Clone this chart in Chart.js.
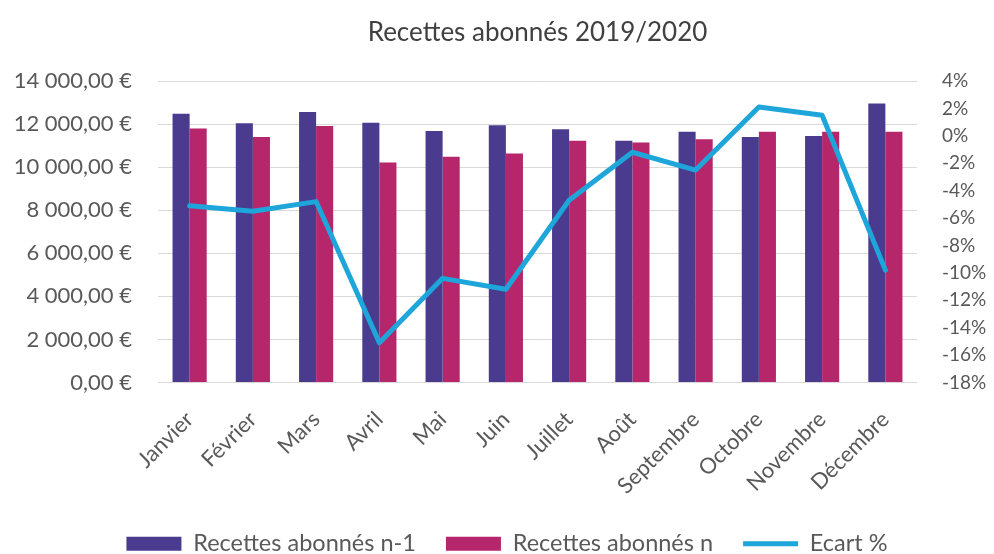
<!DOCTYPE html>
<html>
<head>
<meta charset="utf-8">
<script src="https://cdn.jsdelivr.net/npm/chart.js@4"></script>
<style>
html,body{margin:0;padding:0;background:#fff;}
#wrap{width:994px;height:554px;position:relative;}
</style>
</head>
<body>
<div id="wrap"><canvas id="c" width="994" height="554"></canvas></div>
<script>
const titleText = "Recettes abonnés 2019/2020";
const categories = ["Janvier","Février","Mars","Avril","Mai","Juin","Juillet","Août","Septembre","Octobre","Novembre","Décembre"];
const recettesN1 = [12480, 12040, 12560, 12060, 11680, 11950, 11760, 11220, 11640, 11400, 11450, 12950];
const recettesN = [11800, 11400, 11910, 10210, 10480, 10630, 11220, 11140, 11300, 11640, 11640, 11640];
const ecart = [-5.1, -5.5, -4.8, -15.1, -10.4, -11.2, -4.7, -1.2, -2.5, 2.1, 1.5, -9.8];
const seriesNames = ["Recettes abonnés n-1", "Recettes abonnés n", "Ecart %"];
const leftTicks = [0, 2000, 4000, 6000, 8000, 10000, 12000, 14000];
const rightTicks = [-18, -16, -14, -12, -10, -8, -6, -4, -2, 0, 2, 4];

const FONT = "Lato, 'Noto Sans', sans-serif";
const TXT = "#595959";

function euro(v){
  const s = Math.round(v).toString().replace(/\B(?=(\d{3})+(?!\d))/g, " ");
  return s + ",00 €";
}

const titlePlugin = {
  id: 'customTitle',
  afterLayout(chart){
    if (chart.legend) { chart.legend.left += 10; chart.legend.right += 10; }
  },
  afterDraw(chart){
    const ctx = chart.ctx, a = chart.chartArea;
    ctx.save();
    ctx.font = "26px " + FONT;
    ctx.fillStyle = "#404040";
    ctx.textAlign = "center";
    ctx.textBaseline = "middle";
    ctx.fillText(titleText, (a.left + a.right) / 2, 33);
    ctx.restore();
  }
};

new Chart(document.getElementById('c'), {
  data: {
    labels: categories,
    datasets: [
      { type: 'bar', label: seriesNames[0], data: recettesN1, backgroundColor: '#4b3b8f', borderWidth: 0, yAxisID: 'y', order: 0, pointStyle: 'rect' },
      { type: 'bar', label: seriesNames[1], data: recettesN, backgroundColor: '#b6266b', borderWidth: 0, yAxisID: 'y', order: 0, pointStyle: 'rect' },
      { type: 'line', label: seriesNames[2], data: ecart, borderColor: '#1ea5d9', backgroundColor: '#1ea5d9', borderWidth: 5, pointRadius: 0, pointHoverRadius: 0, tension: 0, yAxisID: 'y1', order: -1, pointStyle: 'line', borderCapStyle: 'round', borderJoinStyle: 'round' }
    ]
  },
  options: {
    responsive: false,
    animation: false,
    devicePixelRatio: 1,
    layout: { padding: { top: 81, left: 0, right: 0, bottom: -11.5 } },
    datasets: { bar: { categoryPercentage: 0.54, barPercentage: 1 } },
    plugins: {
      title: { display: false },
      tooltip: { enabled: false },
      legend: {
        position: 'bottom',
        labels: {
          usePointStyle: true,
          pointStyleWidth: 55,
          boxHeight: 14,
          padding: 30,
          color: TXT,
          font: { family: FONT, size: 23.5 },
          sort: (a, b) => a.datasetIndex - b.datasetIndex
        }
      }
    },
    scales: {
      x: {
        grid: { display: false, drawTicks: false },
        border: { display: false },
        ticks: { color: TXT, font: { family: FONT, size: 22 }, minRotation: 45, maxRotation: 45, padding: 24, autoSkip: false },
        afterFit(s){ s.height = 119.5; }
      },
      y: {
        position: 'left',
        min: 0, max: 14000,
        afterBuildTicks(s){ s.ticks = leftTicks.map(v => ({ value: v })); },
        grid: { color: '#d9d9d9', drawTicks: false, lineWidth: 1 },
        border: { display: false },
        ticks: { color: TXT, font: { family: FONT, size: 22 }, padding: 26, autoSkip: false, callback: v => euro(v) },
        afterFit(s){ s.width = 158; }
      },
      y1: {
        position: 'right',
        min: -18, max: 4,
        afterBuildTicks(s){ s.ticks = rightTicks.map(v => ({ value: v })); },
        grid: { display: false, drawTicks: false },
        border: { display: false },
        ticks: { color: TXT, font: { family: FONT, size: 19 }, padding: 25, autoSkip: false, callback: v => v + "%" },
        afterFit(s){ s.width = 77; }
      }
    }
  },
  plugins: [titlePlugin]
});
</script>
</body>
</html>
